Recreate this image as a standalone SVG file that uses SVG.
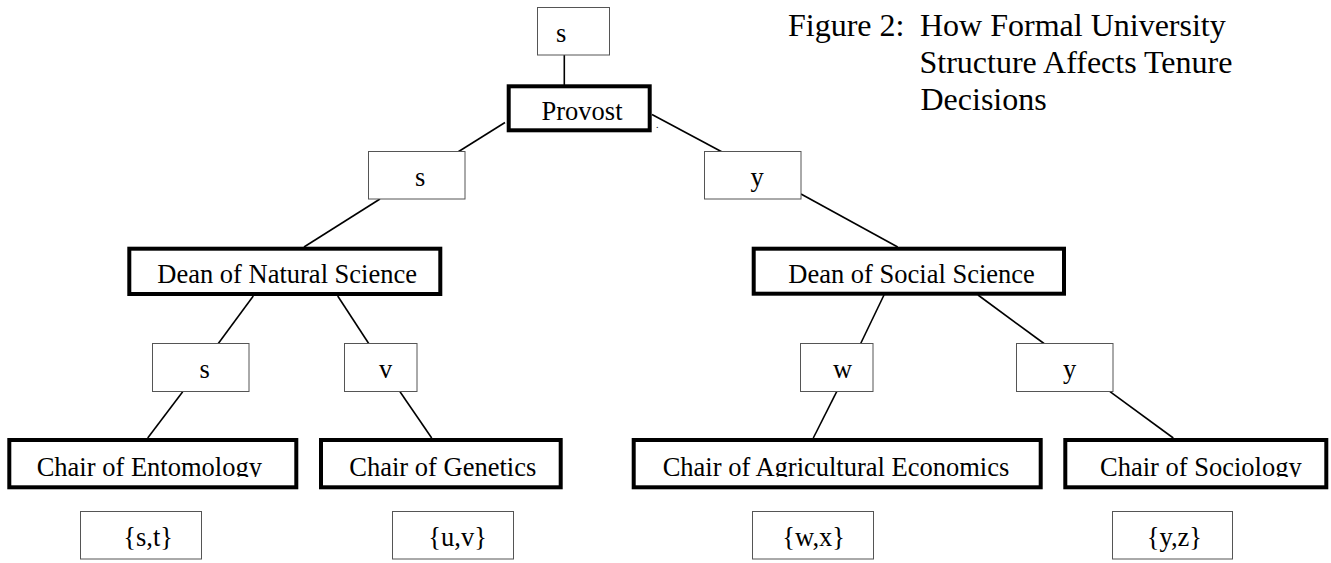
<svg xmlns="http://www.w3.org/2000/svg" width="1331" height="563" viewBox="0 0 1331 563">
<style>
  text { font-family: "Liberation Serif", "Times New Roman", serif; fill: #000; }
  .lbl { font-size: 26.5px; }
  .title { font-size: 32px; }
  .thick { fill: #fff; stroke: #000; stroke-width: 4; }
  .thin { fill: #fff; stroke: #555; stroke-width: 1; }
  .conn line { stroke: #000; stroke-width: 1.6; }
</style>
<defs>
  <clipPath id="chairClip"><rect x="0" y="438" width="1331" height="39"/></clipPath>
</defs>
<rect x="0" y="0" width="1331" height="563" fill="#fff"/>

<g id="title">
  <text class="title" x="788" y="36">Figure 2:</text>
  <text class="title" x="920" y="36">How Formal University</text>
  <text class="title" x="919.5" y="72.7">Structure Affects Tenure</text>
  <text class="title" x="920.5" y="109.5">Decisions</text>
</g>

<g id="connectors" class="conn">
  <line x1="564.3" y1="55" x2="564.3" y2="85"/>
  <line x1="505" y1="122.5" x2="458.3" y2="151.7"/>
  <line x1="652" y1="114.5" x2="721.7" y2="151.7"/>
  <line x1="380" y1="199" x2="304" y2="247"/>
  <line x1="801" y1="194" x2="897.7" y2="247"/>
  <line x1="253.3" y1="296" x2="218.3" y2="343.5"/>
  <line x1="337.7" y1="296" x2="368.7" y2="343.5"/>
  <line x1="884" y1="295" x2="860.7" y2="343.5"/>
  <line x1="978" y1="295" x2="1044" y2="343.5"/>
  <line x1="182.7" y1="391.7" x2="147.7" y2="438"/>
  <line x1="400" y1="391.7" x2="431.7" y2="438"/>
  <line x1="836.7" y1="391.7" x2="813.3" y2="438"/>
  <line x1="1110" y1="391.7" x2="1173.3" y2="438"/>
</g>

<g id="node-top-s">
  <rect class="thin" x="537.5" y="7.5" width="72" height="47.5"/>
  <text class="lbl" x="556" y="41.7">s</text>
</g>
<g id="node-provost">
  <rect class="thick" x="508.7" y="86.3" width="141" height="44"/>
  <text class="lbl" x="541.5" y="119.5">Provost</text>
</g>
<text id="stray-dot" x="656" y="128" font-size="10">.</text>

<g id="node-mid-s">
  <rect class="thin" x="368.5" y="151.5" width="96.5" height="47.5"/>
  <text class="lbl" x="415" y="185.7">s</text>
</g>
<g id="node-mid-y">
  <rect class="thin" x="704.5" y="151.5" width="96.5" height="47.5"/>
  <text class="lbl" x="750.5" y="185.5">y</text>
</g>

<g id="node-dean-natural">
  <rect class="thick" x="129.3" y="248.7" width="311" height="45.3"/>
  <text class="lbl" x="157.3" y="283.3">Dean of Natural Science</text>
</g>
<g id="node-dean-social">
  <rect class="thick" x="753.7" y="248.7" width="310.3" height="45"/>
  <text class="lbl" x="788.3" y="283.3">Dean of Social Science</text>
</g>

<g id="node-l3-s">
  <rect class="thin" x="152.5" y="343.5" width="96.5" height="48"/>
  <text class="lbl" x="199.5" y="378">s</text>
</g>
<g id="node-l3-v">
  <rect class="thin" x="344.5" y="343.5" width="72.5" height="48"/>
  <text class="lbl" x="379" y="378">v</text>
</g>
<g id="node-l3-w">
  <rect class="thin" x="800.5" y="343.5" width="72.5" height="48"/>
  <text class="lbl" x="833" y="378">w</text>
</g>
<g id="node-l3-y">
  <rect class="thin" x="1016.5" y="343.5" width="96.5" height="48"/>
  <text class="lbl" x="1063" y="378">y</text>
</g>

<g id="node-chair-entomology">
  <rect class="thick" x="9.3" y="440" width="287" height="47.3"/>
  <text class="lbl" x="36.7" y="475.5" clip-path="url(#chairClip)">Chair of Entomology</text>
</g>
<g id="node-chair-genetics">
  <rect class="thick" x="321" y="440" width="239.7" height="47.3"/>
  <text class="lbl" x="349.3" y="475.5" clip-path="url(#chairClip)">Chair of Genetics</text>
</g>
<g id="node-chair-agecon">
  <rect class="thick" x="633.7" y="440" width="407" height="47.3"/>
  <text class="lbl" x="662.7" y="476" clip-path="url(#chairClip)">Chair of Agricultural Economics</text>
</g>
<g id="node-chair-sociology">
  <rect class="thick" x="1065.3" y="440" width="261" height="47.3"/>
  <text class="lbl" x="1100" y="476" clip-path="url(#chairClip)">Chair of Sociology</text>
</g>

<g id="node-set-st">
  <rect class="thin" x="80.5" y="511.5" width="121" height="47.5"/>
  <text class="lbl" x="123.3" y="546">{s,t}</text>
</g>
<g id="node-set-uv">
  <rect class="thin" x="392.5" y="511.5" width="121" height="47.5"/>
  <text class="lbl" x="428.3" y="546">{u,v}</text>
</g>
<g id="node-set-wx">
  <rect class="thin" x="752.5" y="511.5" width="121" height="47.5"/>
  <text class="lbl" x="782.3" y="546">{w,x}</text>
</g>
<g id="node-set-yz">
  <rect class="thin" x="1112.5" y="511.5" width="120" height="47.5"/>
  <text class="lbl" x="1146.7" y="546">{y,z}</text>
</g>
</svg>
